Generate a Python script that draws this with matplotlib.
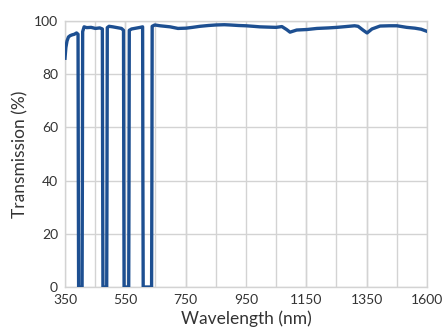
import numpy as np
import matplotlib.pyplot as plt

# transmission spectrum (x in axis units 350..1600)
wavelength = [350, 353, 357, 362, 368, 375, 382, 390, 395, 396, 397, 409, 410, 411,
              416, 425, 440, 455, 470, 479, 480, 481, 494, 495, 496, 502, 515,
              530, 545, 552, 553, 554, 570, 571, 572, 580, 595, 610, 618, 619,
              620, 649, 650, 651, 660, 678, 713, 740, 768, 790, 816, 845, 871,
              900, 920, 950, 975, 1000, 1023, 1050, 1079, 1099, 1115, 1127, 1150,
              1186, 1220, 1260, 1289, 1320, 1350, 1362, 1380, 1393, 1410, 1438,
              1470, 1496, 1530, 1558, 1580, 1600]
transmission = [86, 90, 92.5, 94, 94.5, 94.8, 95, 95.5, 95, 40, 0, 0, 40, 96,
                97.8, 97.5, 97.6, 97.2, 97.4, 97, 40, 0, 0, 40, 97.5, 98, 97.8,
                97.5, 97.2, 96.5, 40, 0, 0, 40, 96.5, 97, 97.3, 97.6, 97.8, 40,
                0, 0, 40, 98, 98.5, 98.2, 97.8, 97.2, 97.3, 97.6, 98, 98.3, 98.5,
                98.6, 98.5, 98.3, 98.2, 98, 97.8, 97.7, 97.6, 97.9, 96.8, 95.8,
                96.6, 96.8, 97.2, 97.4, 97.6, 97.9, 98.2, 98, 96.5, 95.5, 97,
                98.1, 98.2, 98.2, 97.6, 97.3, 96.9, 96.1]

x_ticks = [350, 558.3, 766.7, 975, 1183.3, 1391.7, 1600]
x_tick_labels = ['350', '550', '750', '950', '1150', '1350', '1600']
y_ticks = [0, 20, 40, 60, 80, 100]

plt.rcParams['font.family'] = ['Lato', 'DejaVu Sans']

fig = plt.figure(figsize=(4.44, 3.31), dpi=100)
ax = fig.add_axes([0.1464, 0.1329, 0.8153, 0.8037])

ax.plot(wavelength, transmission, color='#1d4f91', linewidth=2.4,
        solid_joinstyle='round', zorder=3)

ax.set_xlim(350, 1600)
ax.set_ylim(0, 100)
ax.set_xticks(x_ticks)
ax.set_xticklabels(x_tick_labels)
ax.set_xticks(np.linspace(350, 1600, 13), minor=True)
ax.set_yticks(y_ticks)
ax.grid(True, which='both', axis='x', color='#d3d3d3', linewidth=1)
ax.grid(True, which='major', axis='y', color='#d3d3d3', linewidth=1)
ax.tick_params(which='both', length=0, colors='#333333', labelsize=10, pad=5)
for s in ax.spines.values():
    s.set_color('#d3d3d3')
    s.set_linewidth(1)

ax.set_xlabel('Wavelength (nm)', fontsize=12.5, color='#333333', labelpad=3)
ax.set_ylabel('Transmission (%)', fontsize=12.5, color='#333333', labelpad=4)

fig.savefig('out.png', dpi=100)
